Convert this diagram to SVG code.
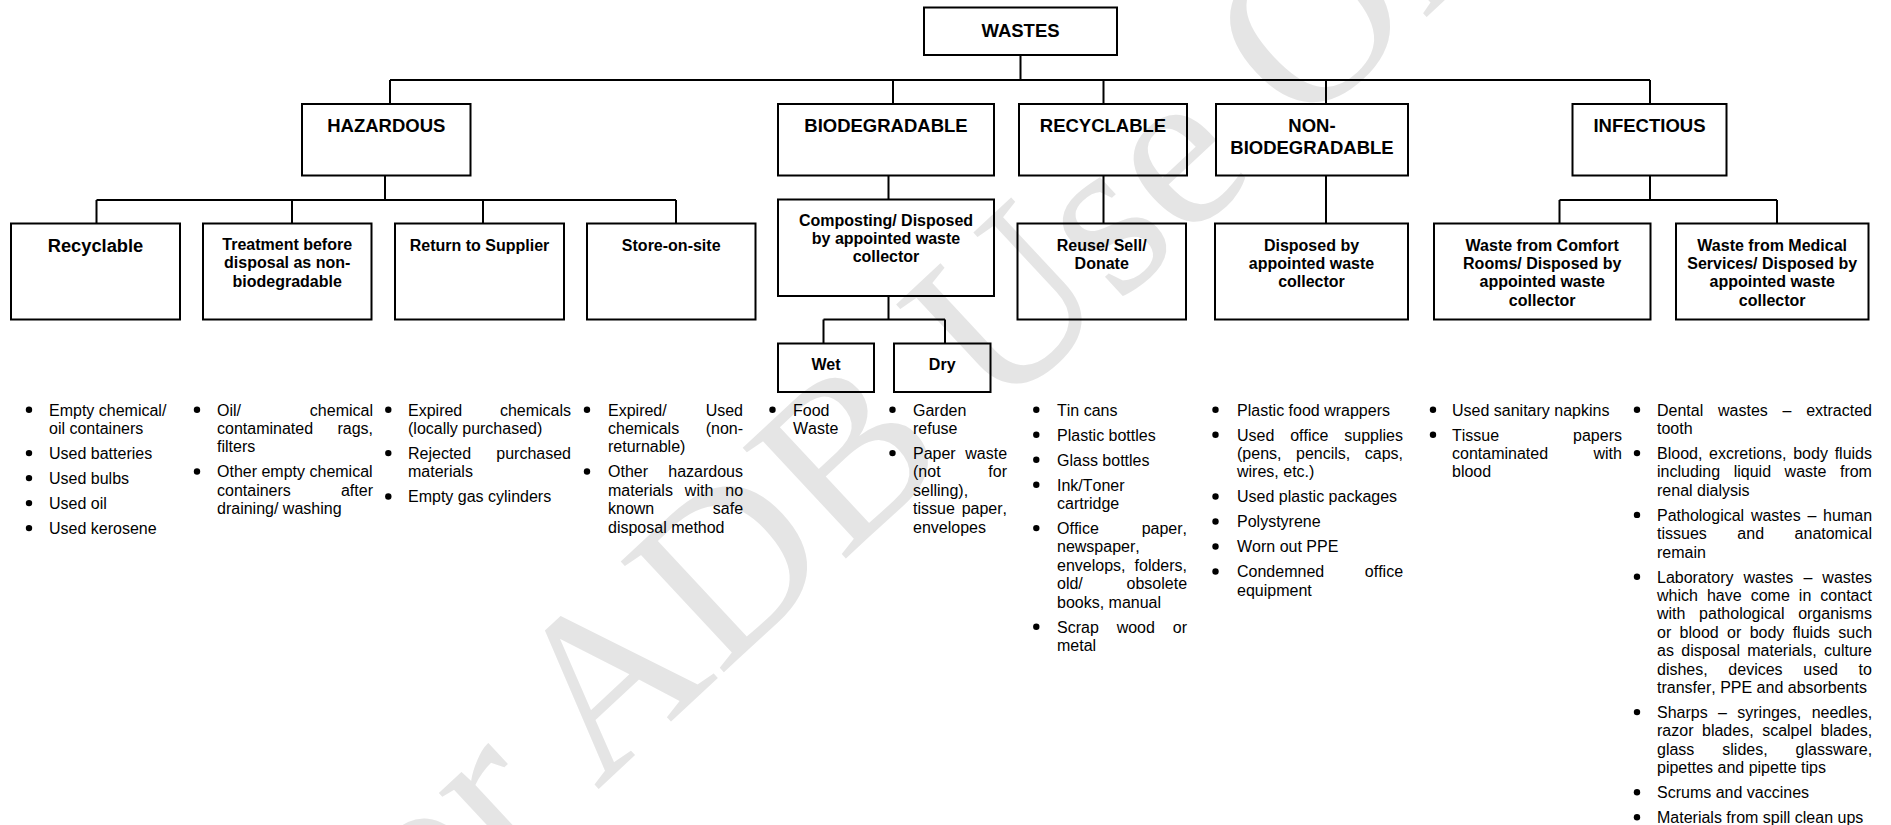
<svg xmlns="http://www.w3.org/2000/svg" width="1891" height="825" viewBox="0 0 1891 825">
<style>
.box{fill:none;stroke:#000;stroke-width:2}
.ln{fill:none;stroke:#000;stroke-width:2}
.h{font-family:'Liberation Sans',Arial,sans-serif;font-weight:bold;font-size:18.5px;text-anchor:middle;fill:#000}
.s{font-family:'Liberation Sans',Arial,sans-serif;font-weight:bold;font-size:16px;text-anchor:middle;fill:#000}
.li{font-family:'Liberation Sans',Arial,sans-serif;font-size:16px;fill:#000;font-kerning:none}
.wm{font-family:'Liberation Serif','Times New Roman',serif;font-size:231px;fill:#e5e5e5}
.dot{fill:#000}
</style>
<rect width="1891" height="825" fill="#fff"/>
<g id="watermark">
<text class="wm" x="367" y="1005" transform="rotate(-43 367 1005)">for ADB Use Only</text>
</g>
<g id="connectors">
<path class="ln" d="M1020.5 55V80 M390 80H1650 M390 80V104 M893 80V104 M1103.5 80V104 M1326 80V104 M1650 80V104 M385 175.5V200 M96.5 200H676 M96.5 200V223.5 M292 200V223.5 M483 200V223.5 M676 200V223.5 M888.5 175.5V199.5 M888.5 296V319.5 M823.5 319.5H945 M823.5 319.5V343.5 M945 319.5V343.5 M1103.5 175.5V223.5 M1326 175.5V223.5 M1650 175.5V200 M1559.5 200H1777 M1559.5 200V223.5 M1777 200V223.5"/>
</g>
<g id="n-wastes"><rect class="box" x="924" y="7.5" width="193" height="47.5"/><text class="h" x="1020.5" y="36.5">WASTES</text></g>
<g id="n-hazardous"><rect class="box" x="302" y="104" width="168.5" height="71.5"/><text class="h" x="386.3" y="132">HAZARDOUS</text></g>
<g id="n-biodegradable"><rect class="box" x="778" y="104" width="216" height="71.5"/><text class="h" x="886" y="132">BIODEGRADABLE</text></g>
<g id="n-recyclable"><rect class="box" x="1019" y="104" width="168" height="71.5"/><text class="h" x="1103" y="132">RECYCLABLE</text></g>
<g id="n-nonbio"><rect class="box" x="1216" y="104" width="192" height="71.5"/><text class="h" x="1312" y="132">NON-</text><text class="h" x="1312" y="153.5">BIODEGRADABLE</text></g>
<g id="n-infectious"><rect class="box" x="1572.5" y="104" width="154" height="71.5"/><text class="h" x="1649.5" y="132">INFECTIOUS</text></g>
<g id="n-haz-recyclable"><rect class="box" x="11" y="223.5" width="169" height="96"/><text class="s" x="95.5" y="251.5" style="font-size:18.3px">Recyclable</text></g>
<g id="n-treatment"><rect class="box" x="203" y="223.5" width="168.5" height="96"/><text class="s" x="287.2" y="250">Treatment before</text><text class="s" x="287.2" y="268.4">disposal as non-</text><text class="s" x="287.2" y="286.8">biodegradable</text></g>
<g id="n-return"><rect class="box" x="395" y="223.5" width="169" height="96"/><text class="s" x="479.5" y="250.5">Return to Supplier</text></g>
<g id="n-store"><rect class="box" x="587" y="223.5" width="168.5" height="96"/><text class="s" x="671.2" y="250.5">Store-on-site</text></g>
<g id="n-composting"><rect class="box" x="778" y="199.5" width="216" height="96.5"/><text class="s" x="886" y="225.5">Composting/ Disposed</text><text class="s" x="886" y="243.9">by appointed waste</text><text class="s" x="886" y="262.3">collector</text></g>
<g id="n-wet"><rect class="box" x="778" y="343.5" width="96" height="48.5"/><text class="s" x="826" y="370">Wet</text></g>
<g id="n-dry"><rect class="box" x="894" y="343.5" width="96.5" height="48.5"/><text class="s" x="942.2" y="370">Dry</text></g>
<g id="n-reuse"><rect class="box" x="1017.5" y="223.5" width="168.5" height="96"/><text class="s" x="1101.7" y="250.5">Reuse/ Sell/</text><text class="s" x="1101.7" y="268.9">Donate</text></g>
<g id="n-disposed"><rect class="box" x="1215" y="223.5" width="193" height="96"/><text class="s" x="1311.5" y="250.5">Disposed by</text><text class="s" x="1311.5" y="268.9">appointed waste</text><text class="s" x="1311.5" y="287.3">collector</text></g>
<g id="n-comfort"><rect class="box" x="1434" y="223.5" width="216.5" height="96"/><text class="s" x="1542.2" y="250.5">Waste from Comfort</text><text class="s" x="1542.2" y="268.9">Rooms/ Disposed by</text><text class="s" x="1542.2" y="287.3">appointed waste</text><text class="s" x="1542.2" y="305.7">collector</text></g>
<g id="n-medical"><rect class="box" x="1676" y="223.5" width="192.5" height="96"/><text class="s" x="1772.2" y="250.5">Waste from Medical</text><text class="s" x="1772.2" y="268.9">Services/ Disposed by</text><text class="s" x="1772.2" y="287.3">appointed waste</text><text class="s" x="1772.2" y="305.7">collector</text></g>

<g id="list-haz-recyclable">
<circle class="dot" cx="29" cy="409.7" r="3.2"/><text class="li" x="49" y="415.5">Empty chemical/</text><text class="li" x="49" y="433.9">oil containers</text>
<circle class="dot" cx="29" cy="453.1" r="3.2"/><text class="li" x="49" y="458.9">Used batteries</text>
<circle class="dot" cx="29" cy="478.1" r="3.2"/><text class="li" x="49" y="483.9">Used bulbs</text>
<circle class="dot" cx="29" cy="503.1" r="3.2"/><text class="li" x="49" y="508.9">Used oil</text>
<circle class="dot" cx="29" cy="528.1" r="3.2"/><text class="li" x="49" y="533.9">Used kerosene</text>
</g>
<g id="list-treatment">
<circle class="dot" cx="197" cy="409.7" r="3.2"/><text class="li" x="217" y="415.5" style="word-spacing:64.4px">Oil/ chemical</text><text class="li" x="217" y="433.9" style="word-spacing:19.9px">contaminated rags,</text><text class="li" x="217" y="452.3">filters</text>
<circle class="dot" cx="197" cy="471.5" r="3.2"/><text class="li" x="217" y="477.3">Other empty chemical</text><text class="li" x="217" y="495.7" style="word-spacing:45.7px">containers after</text><text class="li" x="217" y="514.1">draining/ washing</text>
</g>
<g id="list-return">
<circle class="dot" cx="388.3" cy="409.7" r="3.2"/><text class="li" x="408" y="415.5" style="word-spacing:33.2px">Expired chemicals</text><text class="li" x="408" y="433.9">(locally purchased)</text>
<circle class="dot" cx="388.3" cy="453.1" r="3.2"/><text class="li" x="408" y="458.9" style="word-spacing:20.7px">Rejected purchased</text><text class="li" x="408" y="477.3">materials</text>
<circle class="dot" cx="388.3" cy="496.5" r="3.2"/><text class="li" x="408" y="502.3">Empty gas cylinders</text>
</g>
<g id="list-store">
<circle class="dot" cx="587" cy="409.7" r="3.2"/><text class="li" x="608" y="415.5" style="word-spacing:34.5px">Expired/ Used</text><text class="li" x="608" y="433.9" style="word-spacing:22.1px">chemicals (non-</text><text class="li" x="608" y="452.3">returnable)</text>
<circle class="dot" cx="587" cy="471.5" r="3.2"/><text class="li" x="608" y="477.3" style="word-spacing:15.8px">Other hazardous</text><text class="li" x="608" y="495.7" style="word-spacing:7.5px">materials with no</text><text class="li" x="608" y="514.1" style="word-spacing:54.1px">known safe</text><text class="li" x="608" y="532.5">disposal method</text>
</g>
<g id="list-wet">
<circle class="dot" cx="772.5" cy="409.7" r="3.2"/><text class="li" x="793" y="415.5">Food</text><text class="li" x="793" y="433.9">Waste</text>
</g>
<g id="list-dry">
<circle class="dot" cx="892.5" cy="409.7" r="3.2"/><text class="li" x="913" y="415.5">Garden</text><text class="li" x="913" y="433.9">refuse</text>
<circle class="dot" cx="892.5" cy="453.1" r="3.2"/><text class="li" x="913" y="458.9" style="word-spacing:5.1px">Paper waste</text><text class="li" x="913" y="477.3" style="word-spacing:43.3px">(not for</text><text class="li" x="913" y="495.7">selling),</text><text class="li" x="913" y="514.1" style="word-spacing:2.4px">tissue paper,</text><text class="li" x="913" y="532.5">envelopes</text>
</g>
<g id="list-reuse">
<circle class="dot" cx="1036.3" cy="409.7" r="3.2"/><text class="li" x="1057" y="415.5">Tin cans</text>
<circle class="dot" cx="1036.3" cy="434.7" r="3.2"/><text class="li" x="1057" y="440.5">Plastic bottles</text>
<circle class="dot" cx="1036.3" cy="459.7" r="3.2"/><text class="li" x="1057" y="465.5">Glass bottles</text>
<circle class="dot" cx="1036.3" cy="484.7" r="3.2"/><text class="li" x="1057" y="490.5">Ink/Toner</text><text class="li" x="1057" y="508.9">cartridge</text>
<circle class="dot" cx="1036.3" cy="528.1" r="3.2"/><text class="li" x="1057" y="533.9" style="word-spacing:38.4px">Office paper,</text><text class="li" x="1057" y="552.3">newspaper,</text><text class="li" x="1057" y="570.7" style="word-spacing:4.6px">envelops, folders,</text><text class="li" x="1057" y="589.1" style="word-spacing:39.3px">old/ obsolete</text><text class="li" x="1057" y="607.5">books, manual</text>
<circle class="dot" cx="1036.3" cy="626.7" r="3.2"/><text class="li" x="1057" y="632.5" style="word-spacing:13.4px">Scrap wood or</text><text class="li" x="1057" y="650.9">metal</text>
</g>
<g id="list-disposed">
<circle class="dot" cx="1215.5" cy="409.7" r="3.2"/><text class="li" x="1237" y="415.5">Plastic food wrappers</text>
<circle class="dot" cx="1215.5" cy="434.7" r="3.2"/><text class="li" x="1237" y="440.5" style="word-spacing:11.4px">Used office supplies</text><text class="li" x="1237" y="458.9" style="word-spacing:10.1px">(pens, pencils, caps,</text><text class="li" x="1237" y="477.3">wires, etc.)</text>
<circle class="dot" cx="1215.5" cy="496.5" r="3.2"/><text class="li" x="1237" y="502.3">Used plastic packages</text>
<circle class="dot" cx="1215.5" cy="521.5" r="3.2"/><text class="li" x="1237" y="527.3">Polystyrene</text>
<circle class="dot" cx="1215.5" cy="546.5" r="3.2"/><text class="li" x="1237" y="552.3">Worn out PPE</text>
<circle class="dot" cx="1215.5" cy="571.5" r="3.2"/><text class="li" x="1237" y="577.3" style="word-spacing:36.2px">Condemned office</text><text class="li" x="1237" y="595.7">equipment</text>
</g>
<g id="list-comfort">
<circle class="dot" cx="1433" cy="409.7" r="3.2"/><text class="li" x="1452" y="415.5">Used sanitary napkins</text>
<circle class="dot" cx="1433" cy="434.7" r="3.2"/><text class="li" x="1452" y="440.5" style="word-spacing:69.5px">Tissue papers</text><text class="li" x="1452" y="458.9" style="word-spacing:41px">contaminated with</text><text class="li" x="1452" y="477.3">blood</text>
</g>
<g id="list-medical">
<circle class="dot" cx="1637" cy="409.7" r="3.2"/><text class="li" x="1657" y="415.5" style="word-spacing:10.3px">Dental wastes – extracted</text><text class="li" x="1657" y="433.9">tooth</text>
<circle class="dot" cx="1637" cy="453.1" r="3.2"/><text class="li" x="1657" y="458.9" style="word-spacing:2.3px">Blood, excretions, body fluids</text><text class="li" x="1657" y="477.3" style="word-spacing:9.1px">including liquid waste from</text><text class="li" x="1657" y="495.7">renal dialysis</text>
<circle class="dot" cx="1637" cy="514.9" r="3.2"/><text class="li" x="1657" y="520.7" style="word-spacing:2.3px">Pathological wastes – human</text><text class="li" x="1657" y="539.1" style="word-spacing:26.1px">tissues and anatomical</text><text class="li" x="1657" y="557.5">remain</text>
<circle class="dot" cx="1637" cy="576.7" r="3.2"/><text class="li" x="1657" y="582.5" style="word-spacing:5.6px">Laboratory wastes – wastes</text><text class="li" x="1657" y="600.9" style="word-spacing:4.6px">which have come in contact</text><text class="li" x="1657" y="619.3" style="word-spacing:9.2px">with pathological organisms</text><text class="li" x="1657" y="637.7" style="word-spacing:3.9px">or blood or body fluids such</text><text class="li" x="1657" y="656.1" style="word-spacing:2.9px">as disposal materials, culture</text><text class="li" x="1657" y="674.5" style="word-spacing:16.2px">dishes, devices used to</text><text class="li" x="1657" y="692.9">transfer, PPE and absorbents</text>
<circle class="dot" cx="1637" cy="712.1" r="3.2"/><text class="li" x="1657" y="717.9" style="word-spacing:5.9px">Sharps – syringes, needles,</text><text class="li" x="1657" y="736.3" style="word-spacing:4.1px">razor blades, scalpel blades,</text><text class="li" x="1657" y="754.7" style="word-spacing:23.5px">glass slides, glassware,</text><text class="li" x="1657" y="773.1">pipettes and pipette tips</text>
<circle class="dot" cx="1637" cy="792.3" r="3.2"/><text class="li" x="1657" y="798.1">Scrums and vaccines</text>
<circle class="dot" cx="1637" cy="817.3" r="3.2"/><text class="li" x="1657" y="823.1">Materials from spill clean ups</text>
</g>
</svg>
